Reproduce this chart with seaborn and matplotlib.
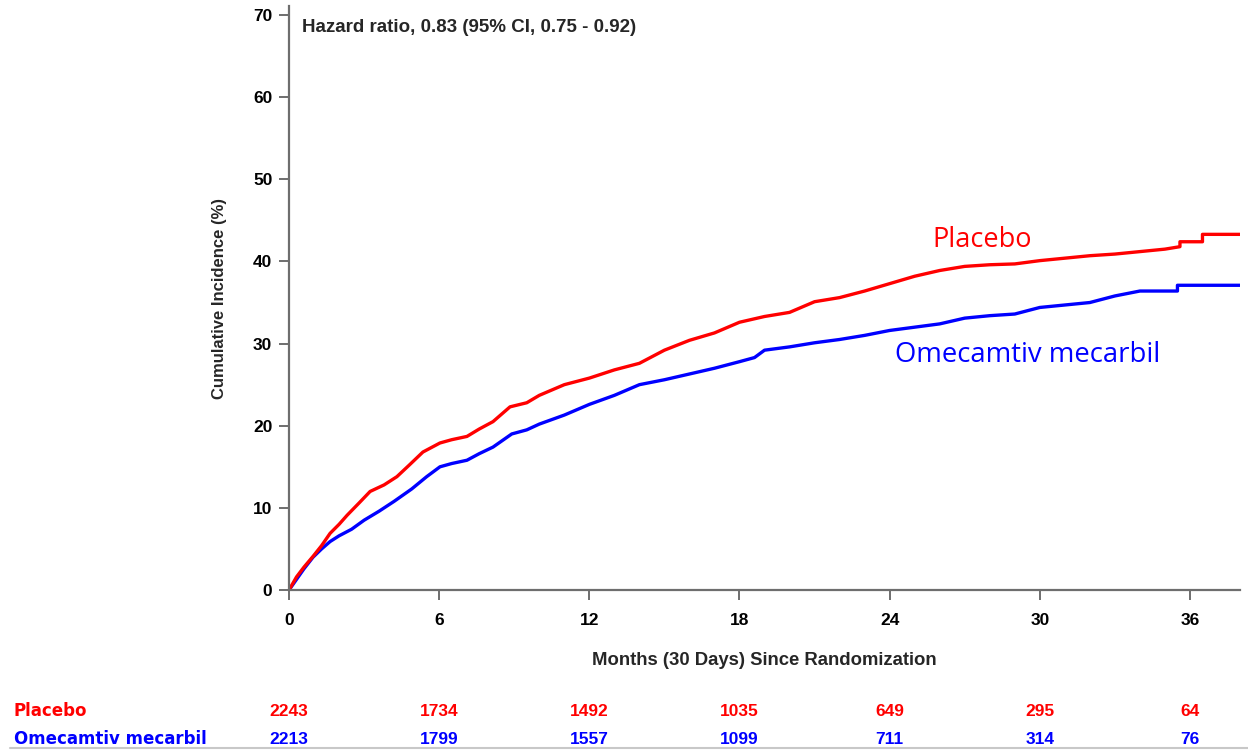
import matplotlib
matplotlib.use("Agg")
import matplotlib.pyplot as plt
import matplotlib.transforms as mtransforms
import seaborn as sns
import pandas as pd

# Cumulative incidence curves (months since randomization, %)
placebo_months = [0, 0.3, 0.6, 0.96, 1.3, 1.64, 2.0, 2.32, 2.8, 3.24, 3.8, 4.31, 4.8, 5.35, 6.03, 6.5,
                  7.11, 7.6, 8.15, 8.83, 9.5, 10, 11, 12, 13, 14, 15, 16, 17, 18, 19, 20, 21, 22, 23,
                  24, 25, 26, 27, 28, 29, 30, 31, 32, 33, 34, 35, 35.6, 35.6, 36.5, 36.5, 38]
placebo_pct = [0, 1.6, 2.8, 4.1, 5.4, 6.9, 8.0, 9.1, 10.6, 12.0, 12.8, 13.8, 15.2, 16.8, 17.9, 18.3,
               18.7, 19.6, 20.5, 22.3, 22.8, 23.7, 25.0, 25.8, 26.8, 27.6, 29.2, 30.4, 31.3, 32.6,
               33.3, 33.8, 35.1, 35.6, 36.4, 37.3, 38.2, 38.9, 39.4, 39.6, 39.7, 40.1, 40.4, 40.7,
               40.9, 41.2, 41.5, 41.8, 42.4, 42.4, 43.3, 43.3]

omecamtiv_months = [0, 0.3, 0.6, 0.96, 1.3, 1.64, 2.0, 2.5, 3.0, 3.6, 4.2, 4.9, 5.5, 6.03, 6.5, 7.11,
                    7.6, 8.15, 8.9, 9.5, 10, 11, 12, 13, 14, 15, 16, 17, 18, 18.6, 19, 20, 21, 22, 23,
                    24, 25, 26, 27, 28, 29, 30, 31, 32, 33, 34, 35.5, 35.5, 38]
omecamtiv_pct = [0, 1.3, 2.6, 4.0, 5.0, 5.9, 6.6, 7.4, 8.5, 9.6, 10.8, 12.3, 13.8, 15.0, 15.4, 15.8,
                 16.6, 17.4, 19.0, 19.5, 20.2, 21.3, 22.6, 23.7, 25.0, 25.6, 26.3, 27.0, 27.8, 28.3,
                 29.2, 29.6, 30.1, 30.5, 31.0, 31.6, 32.0, 32.4, 33.1, 33.4, 33.6, 34.4, 34.7, 35.0,
                 35.8, 36.4, 36.4, 37.1, 37.1]

# Numbers at risk
risk_months = [0, 6, 12, 18, 24, 30, 36]
placebo_at_risk = [2243, 1734, 1492, 1035, 649, 295, 64]
omecamtiv_at_risk = [2213, 1799, 1557, 1099, 711, 314, 76]

RED = "#ff0000"
BLUE = "#0000ff"
GREY = "#6e6e6e"

sns.set_theme(style="white")
plt.rcParams["font.family"] = ["Liberation Sans", "DejaVu Sans"]

fig = plt.figure(figsize=(12.48, 7.5), dpi=100)
ax = fig.add_axes([0.2316, 0.2133, 0.762, 0.7787])

df_p = pd.DataFrame({"month": placebo_months, "pct": placebo_pct})
df_o = pd.DataFrame({"month": omecamtiv_months, "pct": omecamtiv_pct})
sns.lineplot(data=df_o, x="month", y="pct", estimator=None, sort=False, color=BLUE, lw=2.4, ax=ax)
sns.lineplot(data=df_p, x="month", y="pct", estimator=None, sort=False, color=RED, lw=2.4, ax=ax)

ax.set_xlim(0, 38)
ax.set_ylim(0, 71.1)
ax.set_xticks(risk_months)
ax.set_yticks(range(0, 71, 10))
for side in ("top", "right"):
    ax.spines[side].set_visible(False)
for side in ("left", "bottom"):
    ax.spines[side].set_color(GREY)
    ax.spines[side].set_linewidth(1.6)
ax.tick_params(axis="both", direction="out", length=7.5, width=1.4, color=GREY,
               labelsize=12.5, labelcolor="black", bottom=True, left=True)
ax.tick_params(axis="x", pad=9)
ax.tick_params(axis="y", pad=4.5)
for lbl in ax.get_xticklabels() + ax.get_yticklabels():
    lbl.set_fontweight("bold")

ax.set_xlabel("Months (30 Days) Since Randomization", fontsize=13.3, fontweight="bold", labelpad=17)
ax.set_ylabel("Cumulative Incidence (%)", fontsize=12, fontweight="bold", labelpad=19)

ax.text(0.5, 68.5, "Hazard ratio, 0.83 (95% CI, 0.75 - 0.92)", fontsize=13.5,
        fontweight="bold", ha="left", va="center")

ax.text(25.7, 42.6, "Placebo", color=RED, fontsize=19.5, family=["Open Sans", "DejaVu Sans"],
        ha="left", va="center")
ax.text(24.2, 28.6, "Omecamtiv mecarbil", color=BLUE, fontsize=19.8,
        family=["Open Sans", "DejaVu Sans"], ha="left", va="center")

# Numbers-at-risk table below the axis
trans = mtransforms.blended_transform_factory(ax.transData, fig.transFigure)
fig.text(0.011, 1 - 711 / 750, "Placebo", color=RED, fontsize=12, fontweight="bold",
         family=["DejaVu Sans"], ha="left", va="center")
fig.text(0.011, 1 - 739 / 750, "Omecamtiv mecarbil", color=BLUE, fontsize=12,
         fontweight="bold", family=["DejaVu Sans"], ha="left", va="center")
for m, p, o in zip(risk_months, placebo_at_risk, omecamtiv_at_risk):
    ax.text(m, 1 - 711 / 750, f"{p}", transform=trans, color=RED, fontsize=12.5,
            fontweight="bold", ha="center", va="center", clip_on=False)
    ax.text(m, 1 - 739 / 750, f"{o}", transform=trans, color=BLUE, fontsize=12.5,
            fontweight="bold", ha="center", va="center", clip_on=False)

fig.add_artist(plt.Line2D([0.008, 1.0], [1 - 748 / 750] * 2, transform=fig.transFigure,
                          color="#c8c8c8", lw=1.5))

fig.savefig("out.png", dpi=100, facecolor="white")
